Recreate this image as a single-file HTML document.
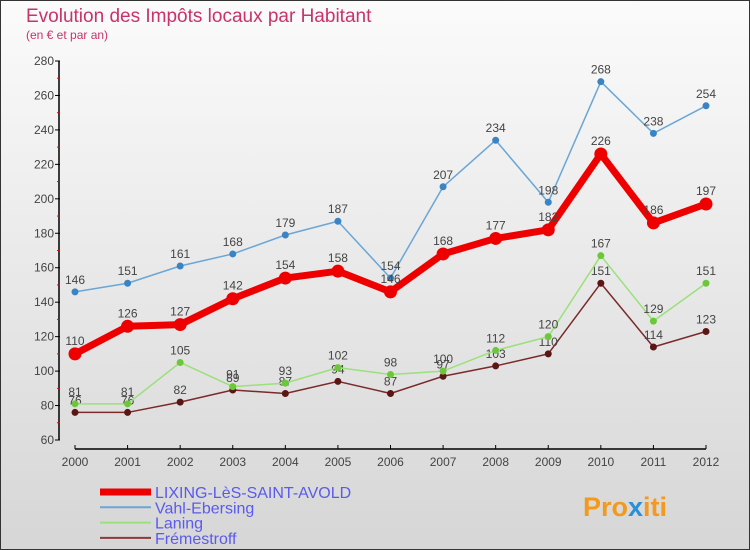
<!DOCTYPE html>
<html><head><meta charset="utf-8"><style>
body{margin:0;width:750px;height:550px;overflow:hidden;font-family:"Liberation Sans",sans-serif}
svg{display:block}
</style></head><body>
<svg id="c" width="750" height="550" xmlns="http://www.w3.org/2000/svg">
<defs><linearGradient id="bg" x1="0" y1="0" x2="0" y2="1"><stop offset="0" stop-color="#fbfbfb"/><stop offset="1" stop-color="#d6d6d6"/></linearGradient></defs>
<rect x="0.5" y="0.5" width="749" height="549" fill="url(#bg)" stroke="#333"/>
<text x="26" y="22" font-size="19" fill="#c8336a">Evolution des Impôts locaux par Habitant</text>
<text x="26" y="39" font-size="12" fill="#c8336a">(en € et par an)</text>
<g id="axes"></g><g id="series"></g><g id="legend"></g>
<text x="583" y="516" font-size="27" font-weight="bold" fill="#f39a1e">Pro<tspan fill="#2a8fd6">x</tspan>iti</text>
</svg>
<script>
const years=[2000,2001,2002,2003,2004,2005,2006,2007,2008,2009,2010,2011,2012];
const yTicks=[60,80,100,120,140,160,180,200,220,240,260,280];
const lixing=[110,126,127,142,154,158,146,168,177,182,226,186,197];
const vahl=[146,151,161,168,179,187,154,207,234,198,268,238,254];
const laning=[81,81,105,91,93,102,98,100,112,120,167,129,151];
const fremestroff=[76,76,82,89,87,94,87,97,103,110,151,114,123];
const names=["LIXING-LèS-SAINT-AVOLD","Vahl-Ebersing","Laning","Frémestroff"];
const NS="http://www.w3.org/2000/svg";
const X=i=>75+i*(706-75)/(years.length-1);
const Y=v=>440-(v-60)*(440-61)/(280-60);
function mk(t,a,p){const e=document.createElementNS(NS,t);for(const k in a)e.setAttribute(k,a[k]);p.appendChild(e);return e;}
const ax=document.getElementById('axes');
const yl=mk('line',{x1:59,y1:61,x2:59,y2:440,stroke:'#000','stroke-width':1.5},ax);


yTicks.forEach((t,i)=>{
 mk('line',{x1:55,y1:Y(t),x2:60,y2:Y(t),stroke:'#000'},ax);
 if(i<yTicks.length-1)mk('line',{x1:57,y1:Y(t+10),x2:60,y2:Y(t+10),stroke:'#e00'},ax);
 const tx=mk('text',{x:54,y:Y(t)+4,'font-size':12,fill:'#444','text-anchor':'end'},ax);tx.textContent=t;
 
 
});
const xl=mk('line',{x1:X(0),y1:449,x2:X(years.length-1),y2:449,stroke:'#000','stroke-width':1.5},ax);


years.forEach((y,i)=>{
 mk('line',{x1:X(i),y1:445,x2:X(i),y2:449,stroke:'#000'},ax);
 const tx=mk('text',{x:X(i),y:466,'font-size':12,fill:'#444','text-anchor':'middle'},ax);tx.textContent=y;
 
 
});
const sg=document.getElementById('series');
const defs=[[fremestroff,'#7a2a2a','#5a1515',1.5,3.5],[laning,'#9be07a','#6cc83a',1.5,3.5],[vahl,'#6aa6d6','#3a84c4',1.5,3.5],[lixing,'#ee0000','#ee0000',7,6.5]];
const lnames=['fremestroff','laning','vahl-ebersing','lixing'];
defs.forEach((d,si)=>{
 const g=mk('g',{},sg);
 
 
 mk('polyline',{points:d[0].map((v,i)=>X(i)+','+Y(v)).join(' '),fill:'none',stroke:d[1],'stroke-width':d[3],'stroke-linejoin':'round'},g);
 d[0].forEach((v,i)=>{
  const c=mk('circle',{cx:X(i),cy:Y(v),r:d[4],fill:d[2]},g);
  
  
  const t=mk('text',{x:X(i),y:Y(v)-(si==3?9:8),'font-size':12,fill:'#444','text-anchor':'middle'},g);t.textContent=v;
  
  
 });
});
const lg=document.getElementById('legend');
const lcol=['#ee0000','#6aa6d6','#9be07a','#8a3a3a'],lw=[7,2,2,2];
names.forEach((n,i)=>{
 const yy=492+i*15.3;
 const g=mk('g',{},lg);
 
 
 mk('line',{x1:100,y1:yy,x2:151,y2:yy,stroke:lcol[i],'stroke-width':lw[i]},g);
 const t=mk('text',{x:155,y:yy+6,'font-size':16,fill:'#5a5aee'},g);t.textContent=n;
});
</script>
</body></html>
